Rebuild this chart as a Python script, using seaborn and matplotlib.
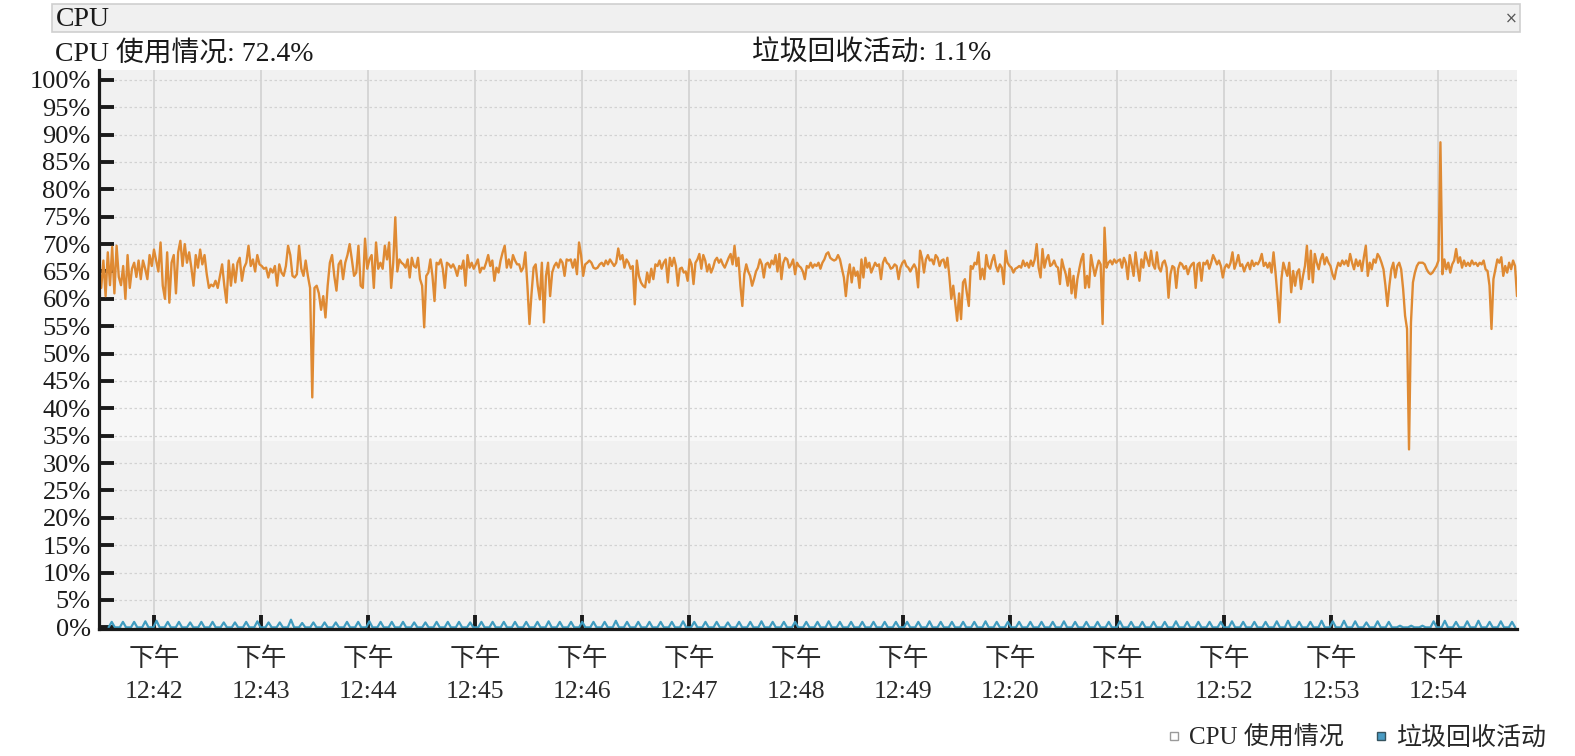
import numpy as np
import pandas as pd
import matplotlib
matplotlib.use("Agg")
import matplotlib.pyplot as plt
from matplotlib.lines import Line2D
from matplotlib.patches import Rectangle
import seaborn as sns

# ---------------- data ----------------
header_cpu = "CPU 使用情况: 72.4%"
header_gc = "垃圾回收活动: 1.1%"
panel_title = "CPU"
series_names = ["CPU 使用情况", "垃圾回收活动"]

tick_minutes = [42, 43, 44, 45, 46, 47, 48, 49, 50, 51, 52, 53, 54]
tick_times = ["12:42", "12:43", "12:44", "12:45", "12:46", "12:47", "12:48",
              "12:49", "12:20", "12:51", "12:52", "12:53", "12:54"]
tick_period = "下午"
y_ticks = list(range(0, 101, 5))

# segment boundaries (minutes after 12:00)
seg_bounds = [41.483, 44.175, 46.857, 49.540, 52.222, 54.736]

cpu_seg1 = [65, 62, 67, 60.5, 68.5, 62.5, 69.5, 61, 69.7, 64, 62.5, 66, 60, 68, 62, 65.5,
            66.6, 64, 67, 63.6, 67, 65.5, 63.6, 68, 66, 69, 67, 65, 70.3, 62.4, 60, 68.5,
            59.3, 66.6, 68, 61, 68.5, 70.6, 66, 70, 66.6, 68.5, 65.7, 62.4, 68, 65.7, 69,
            66.3, 68, 64.5, 62, 62.6, 62.3, 63.3, 62, 64.2, 66.3, 62.4, 59.3, 67, 62.4,
            66.3, 63, 66.6, 67.5, 63.3, 65.7, 66.6, 69.7, 66, 67.2, 65, 68, 66.3, 66, 65.5,
            65.7, 63.9, 65.5, 64.8, 66, 62.4, 66.3, 64.8, 64.2, 66, 69.7, 68, 64.2, 63.9,
            64.5, 69.7, 65.5, 64.2, 67, 64.2, 62, 42, 62, 62.4, 61, 58, 60.5, 56.6, 62.4,
            66.6, 68, 64.2, 61.5, 66.3, 67, 63.6, 66.6, 68, 70, 67.2, 64.2, 64.8, 69.7,
            62.4, 62, 71, 65.5, 67.2, 68, 62, 70.3, 65.5, 66.6, 65.5, 69.7]

cpu_seg2 = [67.2, 70.3, 62, 66.6, 74.9, 65, 67.2, 66.6, 66.3, 65.7, 67.2, 63.9, 67.5, 66,
            65.7, 67.5, 63.6, 62.4, 54.8, 64.2, 64.8, 67.2, 64.2, 59.6, 66.6, 66.3, 67.2,
            65.5, 62, 66.6, 66.3, 65.7, 66.3, 65.5, 64.2, 66, 65.5, 67, 62.4, 68, 65.7,
            66.6, 65.5, 66.3, 67.2, 64.8, 65.7, 65.5, 66.6, 68, 66, 67, 63.3, 65.7, 64.8,
            67, 68.5, 69.7, 65.7, 67.2, 65.7, 68, 67, 66.3, 66.3, 65, 65.7, 68.5, 62.4,
            55.4, 61, 65.7, 66.3, 62.4, 59.9, 66.6, 55.7, 64.2, 66.6, 60.5, 64.8, 66, 66.6,
            65.7, 67.2, 66.6, 64.2, 67.2, 67, 67.2, 65.7, 67.2, 64.5, 70.3, 68, 64.2, 66.3,
            66.6, 67, 66.6, 65.7, 65.5, 65.7, 66.3, 66.6, 66, 67, 66.3, 67.2, 66.6, 66,
            66.6, 69.2, 67.2, 68, 65.7, 67.2, 66.6, 65.5, 66, 59, 67, 64.2, 63, 62.4, 62.1,
            64.8, 63, 65.5, 63.6, 66.3, 66, 67, 65.5, 66.6, 67.2, 63, 67.5, 66]

cpu_seg3 = [67.5, 66, 62.4, 65.5, 65.7, 64.8, 65, 63.3, 67.2, 66.3, 62.7, 66.6, 67.2, 68.2,
            65.5, 68, 67, 65, 66.3, 64.8, 65.7, 67, 67.5, 66.6, 67.2, 66.3, 65.7, 66.6,
            67.5, 68.2, 66.3, 69.7, 66, 67.5, 62.4, 58.7, 64.5, 66.3, 65, 64.2, 62.4, 63.6,
            65, 65.7, 67.2, 66.3, 63.9, 66.3, 66.6, 65.7, 67, 66.3, 68, 65, 68.2, 63.6,
            66.6, 67.5, 67.2, 65.7, 66.3, 67.2, 64.5, 66.6, 66, 65.7, 65, 63.6, 66, 65.7,
            66.6, 65.7, 66.3, 66, 66.6, 65.5, 66.6, 67.2, 68.2, 68.5, 67.5, 67.2, 67, 67.2,
            68, 67.2, 65.5, 63.9, 60.5, 64.2, 66.3, 63, 65.7, 64.2, 65, 62, 67.2, 63.9,
            67.5, 65.7, 66.6, 64.8, 65.7, 66.6, 66, 66.3, 63.6, 66.6, 67.5, 66.6, 66.3,
            65.5, 65.7, 66.3, 66, 63.6, 65.7, 66.6, 67, 66, 65.7, 65, 65.7, 66.3, 65.5,
            62.1, 68.8, 67.5, 64.8, 67.2, 68, 67, 67.2, 66.3, 68, 67.5, 66, 67, 67.2, 65.7,
            67.5, 64.2, 60, 62.4, 59.3, 56, 61]

cpu_seg4 = [56.3, 63, 63.6, 61, 58.7, 66, 65.5, 66.6, 66.3, 68.5, 63.6, 65.5, 63.6, 68,
            66, 65.5, 67, 68, 66, 65, 66.3, 65.7, 62.7, 68.8, 66.6, 66, 65.7, 64.8, 65.5,
            65.7, 66, 65.7, 67, 66, 66.6, 65.7, 67, 66, 67.2, 70, 65.7, 63.9, 69.1, 65.7,
            67.2, 68, 66, 66.3, 67, 66, 65.7, 62.7, 67.2, 65.7, 64.5, 62.4, 65.5, 61, 64.2,
            60.2, 63.6, 65.5, 67.2, 68.2, 62, 64.2, 62.1, 68, 66, 64.2, 65.7, 67, 66.3,
            55.4, 73, 65.7, 66.6, 67, 66.3, 67.2, 66.6, 67, 67.2, 65.7, 67.5, 66.6, 63.6,
            68, 66.3, 64.2, 68.5, 65.7, 63.3, 67.2, 65.7, 68.5, 67.2, 66, 68.8, 66.3, 65.5,
            68.5, 65.7, 65, 66.6, 67, 65.7, 60.2, 64.5, 66, 65.7, 62, 65.5, 66.6, 66.3,
            65.5, 66, 64.5, 65.7, 66.3, 66.6, 62, 66.3, 66.6, 63.3, 66.6, 66.3, 67, 65.5,
            66.6, 68, 67.2, 66.3, 67, 66, 63.9, 65.7, 66.3, 65.7, 66.6, 68.5, 65.5, 66.6,
            68, 66, 66.3, 65, 66]

cpu_seg5 = [66.6, 65.4, 67, 66, 66.6, 66.3, 67, 68.2, 66, 66.6, 65.7, 66.6, 64.8, 68.5,
            64.8, 60.5, 55.7, 63.6, 66.6, 65.4, 64.2, 66.6, 61.2, 65.1, 62.4, 64.8, 65.4,
            61.8, 64.2, 66, 69.7, 63.6, 68.8, 63, 68.2, 66.6, 65.4, 67.2, 68.2, 66.3, 67.6,
            66.6, 66, 64.5, 63.6, 65.4, 66.6, 66, 67, 66.3, 67, 66, 68.2, 66.6, 65.4, 67.2,
            66, 67, 65.1, 67.6, 69.7, 64.2, 66.6, 65.4, 67.2, 66.6, 68.2, 67.6, 66.6, 65.4,
            62.4, 58.7, 62.4, 65.4, 66.6, 63.9, 66, 66.6, 65.4, 61.8, 56.9, 54.5, 32.5, 55.7,
            63, 64.8, 66, 66.6, 66.6, 66.6, 66.3, 65.4, 64.8, 64.5, 64.8, 65.4, 66, 67,
            88.6, 64.5, 67.2, 65.4, 66.6, 64.8, 66.3, 67, 69.1, 66.6, 67.6, 65.7, 67, 66,
            66.6, 66, 67, 66.3, 66.6, 66, 66.6, 66.3, 67, 65.4, 65.1, 62.4, 54.5, 63.6,
            65.4, 67.2, 66.6, 67.6, 64.2, 66, 64.8, 66.6, 65.4, 67, 66, 60.5]

cpu_segments = [cpu_seg1, cpu_seg2, cpu_seg3, cpu_seg4, cpu_seg5]

# garbage collection bumps (peak % per collection), sampled every ~6.3 s
gc_start_min = 41.602
gc_interval_min = 0.1047
gc_peaks = [1.0, 1.0, 1.0, 1.1, 1.2, 1.0, 1.0, 0.9, 1.0, 1.0,
            0.9, 0.9, 1.0, 1.1, 0.9, 0.9, 1.4, 0.8, 0.9, 0.9,
            0.9, 1.0, 1.0, 1.1, 1.0, 1.0, 1.0, 0.9, 0.9, 1.0,
            1.0, 1.0, 0.9, 1.0, 1.0, 1.0, 1.0, 1.0, 1.0, 1.1,
            1.0, 1.0, 1.0, 1.0, 1.0, 1.2, 1.0, 1.0, 1.0, 1.0,
            1.0, 1.1, 1.0, 1.0, 1.0, 0.9, 1.0, 1.0, 1.1, 1.0,
            1.0, 1.0, 1.0, 1.0, 1.1, 1.0, 1.0, 1.0, 1.0, 1.0,
            1.0, 1.0, 1.0, 1.1, 1.0, 1.0, 1.0, 1.0, 1.1, 1.0,
            1.0, 1.0, 1.0, 1.0, 1.0, 1.1, 1.0, 1.0, 1.0, 1.0,
            1.1, 1.0, 1.0, 1.0, 1.0, 1.1, 1.0, 1.0, 1.0, 1.0,
            1.1, 1.0, 1.0, 1.0, 1.1, 1.2, 1.0, 1.0, 1.2, 1.1,
            1.2, 1.1, 0.9, 1.1, 1.0, 0.3, 0.3, 0.3, 1.1, 1.2,
            1.0, 1.1, 1.2, 1.0, 1.1, 1.0]

# ---------------- build tables ----------------
cpu_t, cpu_v = [], []
for i, seg in enumerate(cpu_segments):
    last = i == len(cpu_segments) - 1
    t = np.linspace(seg_bounds[i], seg_bounds[i + 1], len(seg), endpoint=last)
    cpu_t.extend(t)
    cpu_v.extend(seg)
cpu_df = pd.DataFrame({"minute": cpu_t, "value": cpu_v})

gc_t, gc_v = [], []
half = gc_interval_min * 0.28
for k, p in enumerate(gc_peaks):
    c = gc_start_min + k * gc_interval_min
    gc_t.extend([c - half, c, c + half])
    gc_v.extend([0.0, p, 0.0])
gc_df = pd.DataFrame({"minute": gc_t, "value": gc_v})

# ---------------- style ----------------
sns.set_theme(style="white")
fonts = ["Liberation Serif", "Noto Sans CJK SC", "DejaVu Sans"]
plt.rcParams["font.family"] = fonts
plt.rcParams["axes.unicode_minus"] = False

W, H = 1575, 756
fig = plt.figure(figsize=(W / 100, H / 100), dpi=100)
fig.patch.set_facecolor("white")

ax_l, ax_r, ax_t, ax_b = 99, 1517, 70, 629
ax = fig.add_axes([ax_l / W, 1 - ax_b / H, (ax_r - ax_l) / W, (ax_b - ax_t) / H])
ax.set_facecolor("#f1f1f1")
ax.axhspan(34, 60, color="#f7f7f7", zorder=0, lw=0)

cpu_color = "#df8a33"
gc_color = "#3f9cc0"

for yv in y_ticks:
    ax.axhline(yv, color="#d2d2d2", lw=0.9, ls=(0, (2, 2)), zorder=1)
for xv in tick_minutes:
    ax.axvline(xv, color="#d4d4d4", lw=1.3, zorder=1)

sns.lineplot(data=cpu_df, x="minute", y="value", ax=ax, color=cpu_color,
             linewidth=1.7, estimator=None, sort=False, zorder=3)
sns.lineplot(data=gc_df, x="minute", y="value", ax=ax, color=gc_color,
             linewidth=1.6, estimator=None, sort=False, zorder=3)

ax.set_xlim(seg_bounds[0], seg_bounds[-1])
ax.set_ylim(-0.3, 101.8)
ax.set_xlabel("")
ax.set_ylabel("")

ax.set_yticks(y_ticks)
ax.set_yticklabels([f"{v}%" for v in y_ticks])
ax.set_xticks(tick_minutes)
ax.set_xticklabels([f"{tick_period}\n{t}" for t in tick_times], linespacing=1.6)

ax.tick_params(axis="y", direction="in", length=11, width=2.8, color="#1a1a1a",
               labelsize=19, labelcolor="#1a1a1a", pad=6, left=True)
ax.tick_params(axis="x", direction="in", length=10, width=2.8, color="#1a1a1a",
               labelsize=18.5, labelcolor="#2a2a2a", pad=13, bottom=True)
for t in ax.xaxis.get_major_ticks() + ax.yaxis.get_major_ticks():
    t.tick1line.set_zorder(6)
ax.set_axisbelow(False)

for s in ["top", "right"]:
    ax.spines[s].set_visible(False)
for s in ["left", "bottom"]:
    ax.spines[s].set_color("#1a1a1a")
    ax.spines[s].set_linewidth(2.3)
    ax.spines[s].set_zorder(5)
ax.grid(False)

# ---------------- panel header ----------------
bar = Rectangle((52 / W, 1 - 32 / H), (1520 - 52) / W, 28 / H, transform=fig.transFigure,
                facecolor="#f0f0f0", edgecolor="#cfcfcf", lw=1.2)
fig.patches.append(bar)
fig.text(56 / W, 1 - 19 / H, panel_title, fontsize=20, va="center", ha="left", color="#1a1a1a")
fig.text(1511 / W, 1 - 19 / H, "×", fontsize=11, va="center", ha="center",
         color="#555555", family=["DejaVu Sans"])

fig.text(55 / W, 1 - 54 / H, header_cpu, fontsize=20, va="center", ha="left", color="#1a1a1a")
fig.text(752 / W, 1 - 54 / H, header_gc, fontsize=20, va="center", ha="left", color="#1a1a1a")

# ---------------- legend ----------------
handles = [
    Line2D([], [], ls="none", marker="s", markersize=6, markerfacecolor="white",
           markeredgecolor="#9a9a9a", markeredgewidth=1.0),
    Line2D([], [], ls="none", marker="s", markersize=6, markerfacecolor="#4a9cc4",
           markeredgecolor="#35535f", markeredgewidth=1.0),
]
fig.legend(handles, series_names, loc="center right", ncol=2, frameon=False,
           bbox_to_anchor=(1546 / W, 1 - 738 / H), fontsize=18, handlelength=0.6,
           handletextpad=0.3, columnspacing=1.2, borderaxespad=0, borderpad=0)

fig.savefig("out.png", dpi=100, facecolor="white")
